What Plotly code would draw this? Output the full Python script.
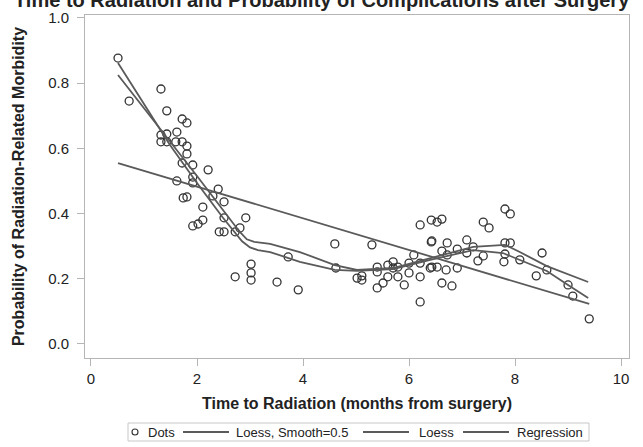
import plotly.graph_objects as go

# Scatter data (Time to radiation, probability)
dots_x = [0.51, 0.72, 1.32, 1.43, 1.72, 1.81, 1.32, 1.43, 1.62, 1.32, 1.43, 1.60, 1.72, 1.81, 1.81,
          1.72, 1.92, 2.21, 1.92, 1.62, 1.92, 2.40, 2.30, 2.51, 1.74, 1.81, 2.11, 2.11, 2.02, 1.92,
          2.51, 2.92, 2.42, 2.51, 2.72, 2.81, 3.02, 3.02, 3.02, 2.72, 4.60, 5.30, 3.72, 4.62, 3.51,
          3.91, 5.02, 5.11, 5.11, 5.40, 5.40, 5.40, 5.51, 5.60, 5.60, 5.70, 5.70, 5.79, 5.79, 5.91,
          6.00, 6.00, 6.09, 6.21, 6.42, 6.42, 6.21, 6.21, 6.21, 6.40, 6.53, 6.62, 7.81, 7.91, 7.40,
          7.51, 6.43, 6.72, 7.09, 7.81, 7.91, 8.51, 6.62, 6.91, 7.09, 7.21, 6.72, 7.40, 7.30, 7.81,
          7.79, 8.09, 6.43, 6.53, 6.70, 6.91, 6.62, 6.81, 8.40, 8.60, 9.00, 9.09, 9.40]
dots_y = [0.877, 0.745, 0.782, 0.715, 0.690, 0.678, 0.641, 0.644, 0.650, 0.620, 0.620, 0.620, 0.620, 0.607, 0.583,
          0.555, 0.549, 0.534, 0.512, 0.500, 0.494, 0.475, 0.454, 0.436, 0.448, 0.451, 0.420, 0.380, 0.368, 0.362,
          0.387, 0.387, 0.344, 0.344, 0.344, 0.356, 0.245, 0.218, 0.196, 0.206, 0.307, 0.304, 0.267, 0.233, 0.190,
          0.166, 0.202, 0.209, 0.196, 0.236, 0.221, 0.172, 0.187, 0.206, 0.242, 0.252, 0.233, 0.236, 0.206, 0.181,
          0.248, 0.218, 0.273, 0.365, 0.380, 0.313, 0.248, 0.206, 0.129, 0.233, 0.374, 0.383, 0.414, 0.399, 0.374,
          0.356, 0.316, 0.310, 0.319, 0.310, 0.310, 0.279, 0.285, 0.291, 0.279, 0.298, 0.273, 0.270, 0.255, 0.276,
          0.252, 0.258, 0.236, 0.236, 0.227, 0.233, 0.187, 0.178, 0.209, 0.227, 0.181, 0.147, 0.077]

# Loess, Smooth=0.5
loess05_x = [0.51, 1.00, 1.49, 2.00, 2.49, 2.85, 3.00, 3.15, 3.38, 3.94, 4.60, 5.02, 5.70, 6.40, 7.21, 7.77, 8.09, 8.60, 9.00, 9.38]
loess05_y = [0.862, 0.736, 0.610, 0.494, 0.387, 0.315, 0.296, 0.288, 0.282, 0.252, 0.227, 0.224, 0.230, 0.258, 0.288, 0.279, 0.258, 0.224, 0.181, 0.141]

# Loess
loess_x = [0.51, 1.00, 1.49, 2.00, 2.49, 2.80, 2.94, 3.08, 3.38, 3.94, 4.60, 5.02, 5.70, 6.40, 7.21, 7.81, 8.09, 8.60, 9.38]
loess_y = [0.825, 0.724, 0.623, 0.515, 0.411, 0.345, 0.321, 0.313, 0.307, 0.282, 0.242, 0.227, 0.233, 0.264, 0.298, 0.304, 0.282, 0.239, 0.190]

# Regression
reg_x = [0.51, 9.40]
reg_y = [0.555, 0.123]

x_ticks = [0, 2, 4, 6, 8, 10]
y_ticks = [0.0, 0.2, 0.4, 0.6, 0.8, 1.0]

series_names = ["Dots", "Loess, Smooth=0.5", "Loess", "Regression"]

line_col = "#5a5a5a"
txt_col = "#222222"
font_fam = "Liberation Sans, Arial, sans-serif"

W, H = 643, 447
ML, MR, MT, MB = 85, 14, 15, 89
PW, PH = W - ML - MR, H - MT - MB


def px_x(px):
    return (px - ML) / PW


def px_y(py):
    return (H - MB - py) / PH


fig = go.Figure()
fig.add_trace(go.Scatter(x=dots_x, y=dots_y, mode="markers", name=series_names[0],
                         marker=dict(symbol="circle-open", size=8, color="#333333",
                                     line=dict(width=1.3, color="#333333"))))
fig.add_trace(go.Scatter(x=loess05_x, y=loess05_y, mode="lines", name=series_names[1],
                         line=dict(color=line_col, width=1.8)))
fig.add_trace(go.Scatter(x=loess_x, y=loess_y, mode="lines", name=series_names[2],
                         line=dict(color=line_col, width=1.8)))
fig.add_trace(go.Scatter(x=reg_x, y=reg_y, mode="lines", name=series_names[3],
                         line=dict(color=line_col, width=1.8)))

axis_common = dict(showgrid=False, zeroline=False, showline=True, mirror=True, automargin=False,
                   linecolor="#b5b5b5", linewidth=1, ticks="outside", ticklen=7,
                   tickcolor="#b5b5b5", tickfont=dict(size=15, color=txt_col, family=font_fam))

fig.update_xaxes(range=[-0.113, 10.15], tickvals=x_ticks, ticktext=[str(v) for v in x_ticks],
                 title=dict(text="<b>Time to Radiation (months from surgery)</b>",
                            font=dict(size=16, color=txt_col, family=font_fam), standoff=11),
                 **axis_common)
fig.update_yaxes(range=[-0.043, 1.009], tickvals=y_ticks, ticktext=[f"{v:.1f}" for v in y_ticks],
                 ticklabelstandoff=5,
                 title=dict(text="<b>Probability of Radiation-Related Morbidity</b>",
                            font=dict(size=16, color=txt_col, family=font_fam), standoff=19),
                 **axis_common)

# Compact framed legend, as in the reference
legend_shapes = [
    dict(type="rect", xref="paper", yref="paper", x0=px_x(128), x1=px_x(589), y0=px_y(441), y1=px_y(423),
         line=dict(color="#c8c8c8", width=1), fillcolor="white", layer="above"),
    dict(type="circle", xref="paper", yref="paper", x0=px_x(132), x1=px_x(138), y0=px_y(435), y1=px_y(429),
         line=dict(color="#333333", width=1.1)),
]
legend_ann = [dict(text=series_names[0], x=px_x(146), y=px_y(432))]
sample_starts = [183, 363, 463]
text_starts = [234, 417, 515]
for i, (s0, t0) in enumerate(zip(sample_starts, text_starts)):
    legend_shapes.append(dict(type="line", xref="paper", yref="paper", x0=px_x(s0), x1=px_x(s0 + 46),
                              y0=px_y(432), y1=px_y(432), line=dict(color=line_col, width=1.8)))
    legend_ann.append(dict(text=series_names[i + 1], x=px_x(t0), y=px_y(432)))

annotations = []
for a in legend_ann:
    annotations.append(dict(xref="paper", yref="paper", xanchor="left", yanchor="middle", showarrow=False,
                            font=dict(size=13, color=txt_col, family=font_fam), **a))
annotations.append(dict(text="<b>Time to Radiation and Probability of Complications after Surgery</b>",
                        xref="paper", yref="paper", x=px_x(W / 2), y=px_y(13), xanchor="center",
                        yanchor="bottom", showarrow=False,
                        font=dict(size=20, color=txt_col, family=font_fam)))

fig.update_layout(
    width=W, height=H,
    margin=dict(l=ML, r=MR, t=MT, b=MB, autoexpand=False),
    paper_bgcolor="white", plot_bgcolor="white",
    font=dict(family=font_fam, color=txt_col),
    showlegend=False,
    shapes=legend_shapes,
    annotations=annotations,
)

fig.write_html("out.html", config={"displayModeBar": False},
               post_script="document.body.style.margin='0px';")
